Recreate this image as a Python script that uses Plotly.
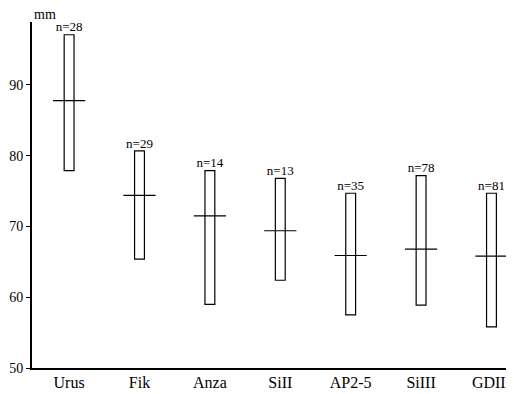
import plotly.graph_objects as go

categories = ["Urus", "Fik", "Anza", "SiII", "AP2-5", "SiIII", "GDIII"]
max_vals = [97.1, 80.7, 77.9, 76.8, 74.7, 77.2, 74.7]
min_vals = [77.9, 65.4, 59.0, 62.4, 57.5, 58.9, 55.8]
mean_vals = [87.8, 74.4, 71.5, 69.4, 65.9, 66.8, 65.8]
n_labels = ["n=28", "n=29", "n=14", "n=13", "n=35", "n=78", "n=81"]
y_ticks = [50, 60, 70, 80, 90]

xs = list(range(len(categories)))
FONT = "Liberation Serif"

fig = go.Figure()
fig.add_trace(go.Bar(
    x=xs,
    y=[mx - mn for mx, mn in zip(max_vals, min_vals)],
    base=min_vals,
    width=0.14,
    marker=dict(color="white", line=dict(color="black", width=1.2)),
    showlegend=False,
    hoverinfo="skip",
))
fig.add_trace(go.Scatter(
    x=xs, y=mean_vals, mode="markers",
    marker=dict(symbol="line-ew-open", size=23, color="black",
                line=dict(color="black", width=1.2)),
    showlegend=False,
))
fig.add_trace(go.Scatter(
    x=xs, y=max_vals, mode="text", text=n_labels,
    textposition="top center", cliponaxis=False,
    textfont=dict(family=FONT, size=13, color="black"),
    showlegend=False,
))

# page body has an 8px default margin; figure sized to fit the 514x394 window
fig.update_layout(
    width=506, height=386,
    margin=dict(l=24, r=0, t=14, b=25.5),
    plot_bgcolor="white", paper_bgcolor="white",
    font=dict(family=FONT, color="black"),
    xaxis=dict(
        range=[-0.527, 6.32],
        tickmode="array", tickvals=xs, ticktext=categories,
        showgrid=False, zeroline=False, automargin=False,
        showline=True, linecolor="black", linewidth=1.5,
        ticks="", ticklabelstandoff=-1,
        tickfont=dict(family=FONT, size=16, color="black"),
    ),
    yaxis=dict(
        range=[50, 98.9],
        tickmode="array", tickvals=y_ticks,
        showgrid=False, zeroline=False, automargin=False,
        showline=True, linecolor="black", linewidth=1.8,
        ticks="outside", ticklen=4, tickwidth=1, tickcolor="black",
        tickfont=dict(family=FONT, size=14, color="black"),
    ),
    annotations=[dict(
        text="mm", x=0, y=1.0, xref="paper", yref="paper",
        xanchor="left", yanchor="middle", showarrow=False,
        font=dict(family=FONT, size=14, color="black"),
        yshift=8,
    )],
)

fig.write_html("out.html")
